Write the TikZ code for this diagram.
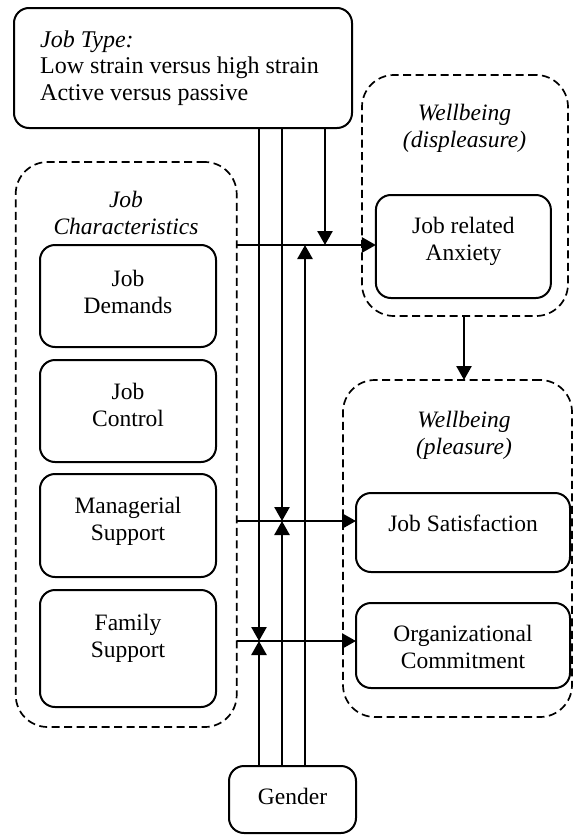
\documentclass[tikz,border=0pt]{standalone}
\usepackage{fontspec}
\setmainfont{Liberation Serif}
\usetikzlibrary{arrows.meta}
\tikzset{
  box/.style={draw, line width=2pt, rounded corners=15pt, inner sep=0pt, outer sep=0pt},
  group/.style={draw, line width=1.7pt, dash pattern=on 8pt off 4.5pt, rounded corners=32pt, inner sep=0pt, outer sep=0pt},
  txt/.style={align=center, inner sep=0pt, font=\fontsize{23.5}{27}\selectfont},
  ttl/.style={align=center, inner sep=0pt, font=\fontsize{23.5}{27}\selectfont\itshape},
  arr/.style={line width=2.6pt, -{Triangle[length=14pt,width=15pt]}},
  ln/.style={line width=2.6pt}
}
\begin{document}
\begin{tikzpicture}[x=1pt,y=-1pt]
\useasboundingbox (0,0) rectangle (573,835);
% Job type
\node[box, minimum width=338pt, minimum height=120pt] (jt) at (183,68) {};
\node[anchor=north west, align=left, inner sep=0pt, font=\fontsize{24}{26.5}\selectfont] (jtt) at (40,30.5)
  {\textit{Job Type:}\\Low strain versus high strain\\Active versus passive};
% Job characteristics group
\node[group, minimum width=221pt, minimum height=565pt] (jc) at (126.2,444.5) {};
\node[ttl] (jct) at (126,213) {Job\\Characteristics};
\node[box, minimum width=176pt, minimum height=102pt] (jd) at (128,296) {};
\node[txt] (jdt) at (128,292) {Job\\Demands};
\node[box, minimum width=176pt, minimum height=102pt] (jcon) at (128,411) {};
\node[txt] (jcont) at (128,405) {Job\\Control};
\node[box, minimum width=176pt, minimum height=103pt] (ms) at (128,525.5) {};
\node[txt] (mst) at (128,521) {Managerial\\Support};
\node[box, minimum width=176pt, minimum height=117pt] (fs) at (128,648.5) {};
\node[txt] (fst) at (128,638) {Family\\Support};
% Wellbeing displeasure
\node[group, minimum width=206pt, minimum height=241pt] (disp) at (465,195.5) {};
\node[ttl] (dispt) at (464.5,128) {Wellbeing\\(displeasure)};
\node[box, minimum width=175pt, minimum height=103pt] (anx) at (463.4,246.5) {};
\node[txt] (anxt) at (463.4,241) {Job related\\Anxiety};
% Wellbeing pleasure
\node[group, minimum width=229pt, minimum height=337pt] (pl) at (457.5,548.5) {};
\node[ttl] (plt) at (464,435) {Wellbeing\\(pleasure)};
\node[box, minimum width=214pt, minimum height=79pt] (js) at (463,532.5) {};
\node[txt] (jst) at (463,523) {Job Satisfaction};
\node[box, minimum width=214pt, minimum height=85pt] (org) at (463,645.5) {};
\node[txt] (orgt) at (463,647) {Organizational\\Commitment};
% Gender
\node[box, minimum width=127pt, minimum height=67pt] (gen) at (292.5,799.5) {};
\node[txt] (gent) at (292.5,796) {Gender};
% junction points
\coordinate (a1) at (325,245);
\coordinate (a2) at (305,245);
\coordinate (b1) at (282,521);
\coordinate (c1) at (259,641);
% horizontal arrows
\draw[arr] (jc.east |- a1) -- (anx.west |- a1);
\draw[arr] (jc.east |- b1) -- (js.west |- b1);
\draw[arr] (jc.east |- c1) -- (org.west |- c1);
% vertical moderator arrows
\draw[arr] (jt.south -| a1) -- (a1);
\draw[arr] (gen.north -| a2) -- (a2);
\draw[arr] (jt.south -| b1) -- (b1);
\draw[arr] (gen.north -| b1) -- (b1);
\draw[arr] (jt.south -| c1) -- (c1);
\draw[arr] (gen.north -| c1) -- (c1);
% displeasure -> pleasure
\coordinate (d1) at (464,0);
\draw[arr] (disp.south -| d1) -- (pl.north -| d1);
\end{tikzpicture}
\end{document}
